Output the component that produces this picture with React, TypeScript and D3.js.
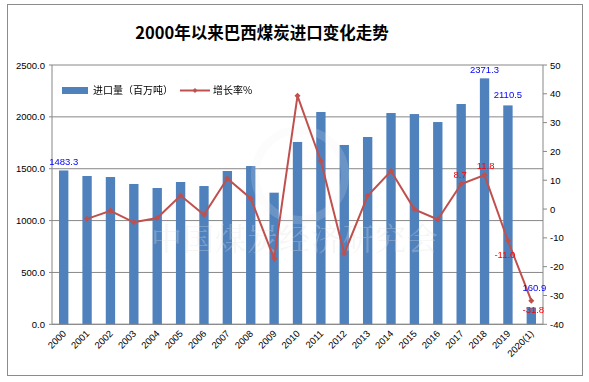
import React from "react";
import * as d3 from "d3";

const categories = ["2000","2001","2002","2003","2004","2005","2006","2007","2008","2009","2010","2011","2012","2013","2014","2015","2016","2017","2018","2019","2020(1)"];
const imports = [1483.3,1430,1420,1353,1314,1372,1333,1478,1526,1269,1758,2047,1729,1806,2037,2027,1950,2124,2371.3,2110.5,160.9];
const growth = [null,-3.4,-0.6,-4.6,-3.1,4.7,-2.0,10.6,3.7,-17.2,39.3,16.7,-15.4,4.6,13.2,-0.1,-3.6,8.7,11.8,-11.0,-31.8];
const leftTicks = [0,500,1000,1500,2000,2500];
const rightTicks = [-40,-30,-20,-10,0,10,20,30,40,50];
const barLabels = [
  { i: 0, text: "1483.3" },
  { i: 18, text: "2371.3" },
  { i: 19, text: "2110.5" },
  { i: 20, text: "160.9" },
];
const lineLabels = [
  { i: 17, text: "8.7" },
  { i: 18, text: "11.8" },
  { i: 19, text: "-11.0" },
  { i: 20, text: "-31.8" },
];

const W = 589, H = 382;
const PL = 52, PR = 543, PT = 65, PB = 324.3;
const FONT = "'Liberation Sans', Arial, sans-serif";
const CJK = "'Noto Sans CJK SC', sans-serif";

export default function App() {
  const x = d3.scaleBand<string>().domain(categories).range([PL, PR]).paddingInner(0.6).paddingOuter(0.3);
  const yL = d3.scaleLinear().domain([0, 2500]).range([PB, PT]);
  const yR = d3.scaleLinear().domain([-40, 50]).range([PB, PT]);
  const cx = (i: number) => (x(categories[i]) as number) + x.bandwidth() / 2;
  const pts = growth.map((g, i) => ({ g, i })).filter(d => d.g !== null) as { g: number; i: number }[];
  const line = d3.line<{ g: number; i: number }>().x(d => cx(d.i)).y(d => yR(d.g));
  const diamond = (px: number, py: number, r = 3) => `M${px},${py - r}L${px + r},${py}L${px},${py + r}L${px - r},${py}Z`;
  const gridColor = "#878787";

  return (
    <svg width={W} height={H} style={{ position: "absolute", left: 0, top: 0, background: "#fff" }}>
      <rect x={7.5} y={4.5} width={575} height={371} fill="#fff" stroke="#8c8c8c" strokeWidth={1} />
      <text x={262} y={39} textAnchor="middle" fontFamily={CJK} fontWeight="bold" fontSize={16.5} fill="#000">2000年以来巴西煤炭进口变化走势</text>

      {leftTicks.map(t => (
        <g key={"g" + t}>
          <line x1={PL} x2={PR} y1={yL(t)} y2={yL(t)} stroke={gridColor} strokeWidth={1} />
          <line x1={PL - 3} x2={PL} y1={yL(t)} y2={yL(t)} stroke={gridColor} />
          <text x={45} y={yL(t) + 3.5} textAnchor="end" fontFamily={FONT} fontSize={9.5} fill="#000">{t.toFixed(1)}</text>
        </g>
      ))}
      {rightTicks.map(t => (
        <g key={"r" + t}>
          <line x1={PR} x2={PR + 4} y1={yR(t)} y2={yR(t)} stroke={gridColor} />
          <text x={550} y={yR(t) + 3.5} textAnchor="start" fontFamily={FONT} fontSize={9.5} fill="#000">{t}</text>
        </g>
      ))}
      <line x1={PL} x2={PL} y1={PT} y2={PB} stroke={gridColor} />
      <line x1={PR} x2={PR} y1={PT} y2={PB} stroke={gridColor} />

      {imports.map((v, i) => (
        <rect key={"b" + i} x={x(categories[i])} y={yL(v)} width={x.bandwidth()} height={PB - yL(v)} fill="#4F81BD" />
      ))}

      <g opacity={0.3}>
        <circle cx={300} cy={175} r={45} fill="none" stroke="#eeeeee" strokeWidth={8} opacity={0.6} />
        <text x={295} y={250} textAnchor="middle" fontFamily="'Noto Serif CJK SC', 'Noto Sans CJK SC', serif" fontSize={31} fill="#e0e0e0" letterSpacing={1}>中国煤炭经济研究会</text>
      </g>

      <line x1={PL} x2={PR} y1={PB} y2={PB} stroke={gridColor} />

      <path d={line(pts) || ""} fill="none" stroke="#C0504D" strokeWidth={2} />
      {pts.map(d => (
        <path key={"m" + d.i} d={diamond(cx(d.i), yR(d.g), 3)} fill="#C0504D" />
      ))}

      {barLabels.map(l => (
        <text key={"bl" + l.i} x={cx(l.i) + (l.i === 20 ? 3 : 0)} y={yL(imports[l.i]) - (l.i === 20 ? 17 : l.i === 19 ? 7 : 5)} textAnchor="middle" fontFamily={FONT} fontSize={9.5} fill="#0000FF">{l.text}</text>
      ))}
      {lineLabels.map(l => {
        const g = growth[l.i] as number;
        const below = g < 0;
        return (
          <text key={"ll" + l.i} x={cx(l.i) + (l.i === 17 ? -1 : l.i === 20 ? 2 : l.i === 19 ? -3 : 1)} y={yR(g) + (below ? (l.i === 19 ? 17 : 12) : -6)} textAnchor="middle" fontFamily={FONT} fontSize={9.5} fill="#FF0000">{l.text}</text>
        );
      })}

      {categories.map((c, i) => (
        <text key={"x" + i} transform={`translate(${cx(i) + 3},${PB + 10}) rotate(-45)`} textAnchor="end" fontFamily={FONT} fontSize={9.5} fill="#000">{c}</text>
      ))}

      <rect x={62} y={87} width={26} height={7} fill="#4F81BD" />
      <text x={93} y={94} fontFamily={CJK} fontSize={10} fill="#000">进口量（百万吨）</text>
      <line x1={180} x2={210} y1={90.5} y2={90.5} stroke="#C0504D" strokeWidth={2} />
      <path d={diamond(195, 90.5, 2.5)} fill="#C0504D" />
      <text x={213} y={94} fontFamily={CJK} fontSize={10} fill="#000">增长率%</text>
    </svg>
  );
}
